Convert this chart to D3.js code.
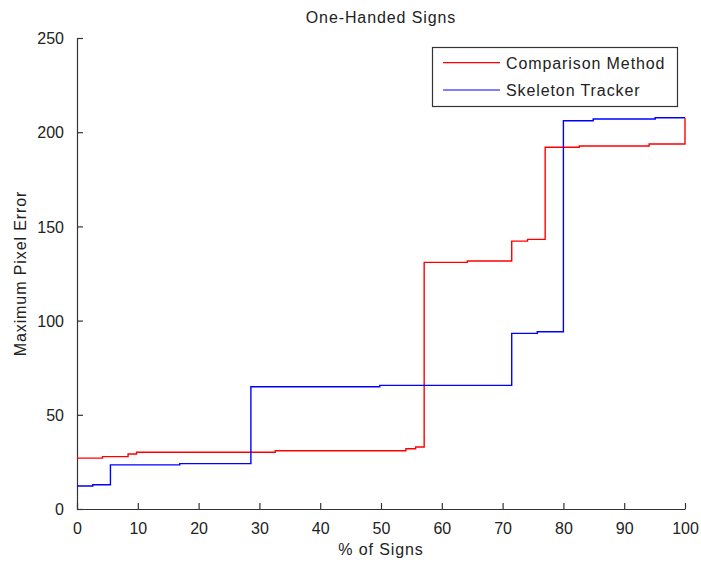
<!DOCTYPE html>
<html>
<head>
<meta charset="utf-8">
<script src="https://cdn.jsdelivr.net/npm/d3@7"></script>
<style>
  html, body { margin: 0; padding: 0; background: #fff; }
  svg text { font-family: "Liberation Sans", Arial, Helvetica, sans-serif; fill: #222; }
</style>
</head>
<body>
<svg id="chart" width="701" height="564"></svg>
<script>
// ---- Data ----
const seriesNames = ["Comparison Method", "Skeleton Tracker"];
const seriesColors = ["#ff0000", "#0000ff"];

// Step breakpoints: value holds from x[i] until x[i+1]
const comparisonX = [0, 4.2, 8.4, 9.8, 32.6, 54.1, 55.7, 57.1, 64.2, 71.5, 74.1, 77.0, 82.6, 94.1, 100, 100];
const comparisonY = [27, 27.8, 29.2, 30.1, 30.9, 32, 32.9, 130.9, 131.6, 142.2, 143.1, 192, 192.7, 193.7, 193.7, 207.4];

const skeletonX = [0, 2.6, 5.5, 16.9, 28.6, 49.8, 71.5, 75.7, 80.0, 84.9, 95.1, 100];
const skeletonY = [12.2, 12.9, 23.4, 24.1, 64.9, 65.6, 93.2, 94.1, 206.1, 207, 207.7, 207.7];

const xTicks = [0, 10, 20, 30, 40, 50, 60, 70, 80, 90, 100];
const yTicks = [0, 50, 100, 150, 200, 250];

const titleText = "One-Handed Signs";
const xLabelText = "% of Signs";
const yLabelText = "Maximum Pixel Error";

// ---- Layout ----
const svg = d3.select("#chart");
const plotLeft = 77, plotRight = 685, plotTop = 38, plotBottom = 509;
const axisColor = "#333";

const x = d3.scaleLinear().domain([0, 100]).range([plotLeft, plotRight]);
const y = d3.scaleLinear().domain([0, 250]).range([plotBottom, plotTop]);

// Axes (MATLAB-style inward ticks)
const xAxis = d3.axisBottom(x).tickValues(xTicks).tickSizeInner(-6).tickSizeOuter(0).tickPadding(14);
const yAxis = d3.axisLeft(y).tickValues(yTicks).tickSizeInner(-6).tickSizeOuter(0).tickPadding(13);

const gx = svg.append("g").attr("transform", `translate(0,${plotBottom})`).call(xAxis);
const gy = svg.append("g").attr("transform", `translate(${plotLeft},0)`).call(yAxis);

[gx, gy].forEach(g => {
  g.select(".domain").attr("stroke", axisColor).attr("stroke-width", 1.2);
  g.selectAll(".tick line").attr("stroke", axisColor).attr("stroke-width", 1.2);
  g.selectAll(".tick text").attr("font-size", 16).attr("fill", "#222")
    .style("font-family", '"Liberation Sans", Arial, sans-serif');
});
gy.selectAll(".tick text").attr("dy", "0.36em");

// Lines
const line = d3.line().x(d => x(d[0])).y(d => y(d[1])).curve(d3.curveStepAfter);
const series = [
  d3.zip(comparisonX, comparisonY),
  d3.zip(skeletonX, skeletonY)
];

svg.append("g").selectAll("path").data(series).join("path")
  .attr("d", line)
  .attr("fill", "none")
  .attr("stroke", (d, i) => seriesColors[i])
  .attr("stroke-width", 1.4);

// Title and labels
svg.append("text").attr("x", (plotLeft + plotRight) / 2).attr("y", 23)
  .attr("text-anchor", "middle").attr("font-size", 16).attr("letter-spacing", 0.9)
  .text(titleText);

svg.append("text").attr("x", (plotLeft + plotRight) / 2).attr("y", 555)
  .attr("text-anchor", "middle").attr("font-size", 16).attr("letter-spacing", 0.9)
  .text(xLabelText);

svg.append("text").attr("transform", `translate(26,${(plotTop + plotBottom) / 2}) rotate(-90)`)
  .attr("text-anchor", "middle").attr("font-size", 16).attr("letter-spacing", 0.9)
  .text(yLabelText);

// Legend
const legend = svg.append("g");
legend.append("rect").attr("x", 432.5).attr("y", 47.5).attr("width", 245).attr("height", 59)
  .attr("fill", "#fff").attr("stroke", axisColor).attr("stroke-width", 1.2);
seriesNames.forEach((name, i) => {
  const ly = 62.7 + i * 27.3;
  legend.append("line").attr("x1", 443).attr("x2", 500).attr("y1", ly).attr("y2", ly)
    .attr("stroke", seriesColors[i]).attr("stroke-width", 1.2);
  legend.append("text").attr("x", 506).attr("y", ly + 5.8)
    .attr("font-size", 16).attr("letter-spacing", 0.9).text(name);
});
</script>
</body>
</html>
